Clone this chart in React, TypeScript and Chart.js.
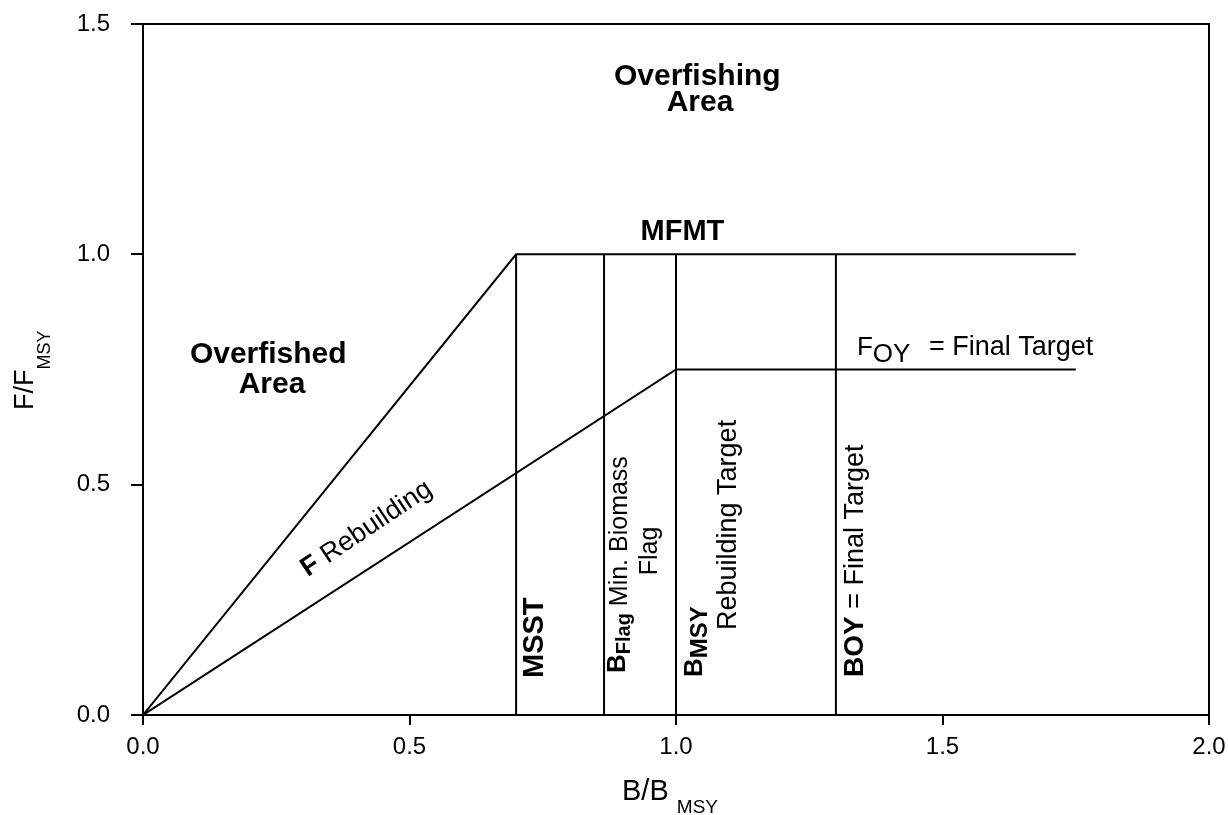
import React, { useEffect, useRef } from 'react';
import { Chart, registerables } from 'chart.js';

Chart.register(...registerables);

const FAMILY = '"Liberation Sans", Arial, Helvetica, sans-serif';

// ---- data ----
const xTickValues = [0, 0.5, 1.0, 1.5, 2.0];
const yTickValues = [0, 0.5, 1.0, 1.5];
const mfmtB = [0, 0.7, 1.75];
const mfmtF = [0, 1.0, 1.0];
const rebuildB = [0, 1.0, 1.75];
const rebuildF = [0, 0.75, 0.75];
const refNames = ['MSST', 'BFlag', 'BMSY', 'BOY'];
const refB = [0.7, 0.865, 1.0, 1.3];
const refTop = [1.0, 1.0, 1.0, 1.0];

type Run = { t: string; size: number; bold?: boolean; dy?: number };

function drawRuns(ctx: CanvasRenderingContext2D, x: number, y: number, angle: number, runs: Run[]) {
  ctx.save();
  ctx.translate(x, y);
  ctx.rotate(angle);
  ctx.textAlign = 'left';
  ctx.textBaseline = 'alphabetic';
  ctx.fillStyle = '#000';
  let cx = 0;
  for (const r of runs) {
    ctx.font = `${r.bold ? 'bold ' : ''}${r.size}px ${FAMILY}`;
    ctx.fillText(r.t, cx, r.dy || 0);
    cx += ctx.measureText(r.t).width;
  }
  ctx.restore();
}

function drawCentered(ctx: CanvasRenderingContext2D, cx: number, y: number, text: string, size: number, bold: boolean, angle = 0) {
  ctx.save();
  ctx.translate(cx, y);
  ctx.rotate(angle);
  ctx.font = `${bold ? 'bold ' : ''}${size}px ${FAMILY}`;
  ctx.textAlign = 'center';
  ctx.textBaseline = 'alphabetic';
  ctx.fillStyle = '#000';
  ctx.fillText(text, 0, 0);
  ctx.restore();
}

const annotPlugin = {
  id: 'annotations',
  afterDatasetsDraw(chart: any) {
    const ctx: CanvasRenderingContext2D = chart.ctx;
    const xs = chart.scales.x;
    const ys = chart.scales.y;
    const ca = chart.chartArea;
    const px = (v: number) => xs.getPixelForValue(v);
    const py = (v: number) => ys.getPixelForValue(v);
    const up = -Math.PI / 2;

    // frame (top and right sides)
    ctx.save();
    ctx.strokeStyle = '#000';
    ctx.lineWidth = 2;
    ctx.beginPath();
    ctx.moveTo(ca.left, ca.top);
    ctx.lineTo(ca.right, ca.top);
    ctx.lineTo(ca.right, ca.bottom);
    ctx.stroke();
    ctx.restore();

    // area labels
    drawCentered(ctx, px(1.04), ca.top + 61, 'Overfishing', 30, true);
    drawCentered(ctx, px(1.045), ca.top + 87, 'Area', 30, true);
    drawCentered(ctx, px(0.235), ca.top + 339, 'Overfished', 30, true);
    drawCentered(ctx, px(0.242), ca.top + 369, 'Area', 30, true);
    drawCentered(ctx, px(1.012), py(1.0) - 14, 'MFMT', 29, true);

    // F Rebuilding along the rebuilding line
    const ang = Math.atan2(py(rebuildF[1]) - py(rebuildF[0]), px(rebuildB[1]) - px(rebuildB[0]));
    drawRuns(ctx, px(0.309), py(0.309 * 0.75) - 31, ang - 0.015, [
      { t: 'F', size: 27, bold: true },
      { t: ' Rebuilding', size: 27 },
    ]);

    // F_OY = Final Target
    const fy = py(rebuildF[2]) - 15;
    drawRuns(ctx, px(refB[3]) + 21, fy, 0, [
      { t: 'F', size: 26 },
      { t: 'OY', size: 26, dy: 7 },
    ]);
    drawRuns(ctx, px(refB[3]) + 93, fy, 0, [{ t: '= Final Target', size: 27 }]);

    // vertical reference labels
    const y0 = py(0);
    drawRuns(ctx, px(refB[0]) + 27, y0 - 37, up, [{ t: 'MSST', size: 29, bold: true }]);

    drawRuns(ctx, px(refB[1]) + 21, y0 - 42, up, [
      { t: 'B', size: 26, bold: true },
      { t: 'Flag', size: 20, bold: true, dy: 5 },
      { t: ' Min. Biomass', size: 25, dy: 2 },
    ]);
    drawCentered(ctx, px(refB[1]) + 53, y0 - 164, 'Flag', 25, false, up);

    drawRuns(ctx, px(refB[2]) + 26, y0 - 38, up, [
      { t: 'B', size: 26, bold: true },
      { t: 'MSY', size: 24, bold: true, dy: 5 },
    ]);
    drawRuns(ctx, px(refB[2]) + 60, y0 - 85, up, [{ t: 'Rebuilding Target', size: 27 }]);

    drawRuns(ctx, px(refB[3]) + 27, y0 - 38, up, [
      { t: 'BOY', size: 28, bold: true },
      { t: ' = Final Target', size: 27 },
    ]);

    // axis titles
    drawRuns(ctx, 622, 800, 0, [
      { t: 'B/B ', size: 29 },
      { t: 'MSY', size: 19, dy: 13 },
    ]);
    drawRuns(ctx, 33, 410, up, [
      { t: 'F/F', size: 27 },
      { t: 'MSY', size: 18, dy: 17 },
    ]);
  },
};

const lineStyle = {
  borderColor: '#000',
  borderWidth: 2,
  pointRadius: 0,
  tension: 0,
  fill: false,
};

export default function App() {
  const ref = useRef<HTMLCanvasElement | null>(null);

  useEffect(() => {
    if (!ref.current) return;
    const datasets: any[] = [
      { label: 'MFMT', data: mfmtB.map((b, i) => ({ x: b, y: mfmtF[i] })), ...lineStyle },
      { label: 'F Rebuilding', data: rebuildB.map((b, i) => ({ x: b, y: rebuildF[i] })), ...lineStyle },
      ...refNames.map((n, i) => ({
        label: n,
        data: [
          { x: refB[i], y: 0 },
          { x: refB[i], y: refTop[i] },
        ],
        ...lineStyle,
      })),
    ];
    const tickFont = { family: FAMILY, size: 24 };
    const chart = new Chart(ref.current, {
      type: 'line',
      data: { datasets },
      options: {
        responsive: false,
        animation: false,
        devicePixelRatio: 1,
        layout: { padding: { top: 24, right: 19, left: 0, bottom: 0 } },
        plugins: { legend: { display: false }, tooltip: { enabled: false } },
        scales: {
          x: {
            type: 'linear',
            min: 0,
            max: 2,
            afterBuildTicks: (s: any) => {
              s.ticks = xTickValues.map((v) => ({ value: v }));
            },
            afterFit: (s: any) => {
              s.height = 100;
              s.paddingLeft = 0;
              s.paddingRight = 0;
            },
            ticks: {
              color: '#000',
              font: tickFont,
              padding: 8,
              maxRotation: 0,
              autoSkip: false,
              callback: (v: any) => Number(v).toFixed(1),
            },
            grid: { drawOnChartArea: false, drawTicks: true, tickLength: 10, color: '#000', lineWidth: 2 },
            border: { display: true, color: '#000', width: 2 },
          },
          y: {
            type: 'linear',
            min: 0,
            max: 1.5,
            afterBuildTicks: (s: any) => {
              s.ticks = yTickValues.map((v) => ({ value: v }));
            },
            afterFit: (s: any) => {
              s.width = 143;
              s.paddingTop = 0;
              s.paddingBottom = 0;
            },
            ticks: {
              color: '#000',
              font: tickFont,
              padding: 21,
              autoSkip: false,
              callback: (v: any) => Number(v).toFixed(1),
            },
            grid: { drawOnChartArea: false, drawTicks: true, tickLength: 12, color: '#000', lineWidth: 2 },
            border: { display: true, color: '#000', width: 2 },
          },
        },
      } as any,
      plugins: [annotPlugin],
    });
    return () => chart.destroy();
  }, []);

  return (
    <div style={{ position: 'fixed', left: 0, top: 0, width: 1228, height: 815, background: '#fff' }}>
      <canvas ref={ref} width={1228} height={815} style={{ display: 'block', width: 1228, height: 815 }} />
    </div>
  );
}
